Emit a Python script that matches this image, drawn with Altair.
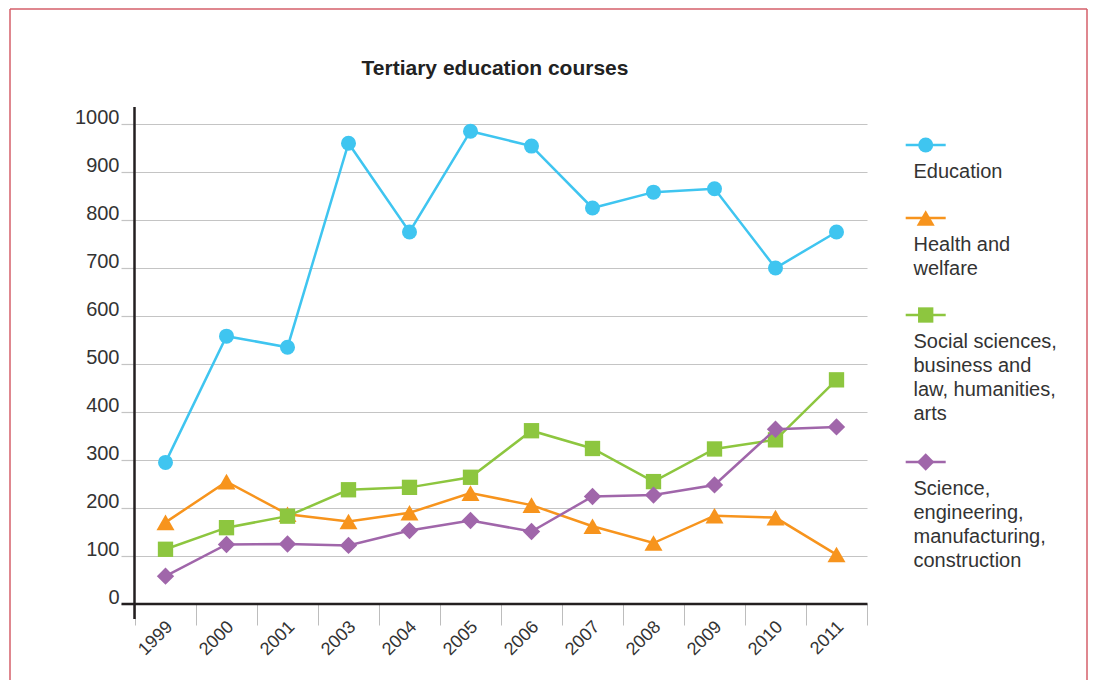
import altair as alt
import pandas as pd

# ---------------- data ----------------
years = ["1999", "2000", "2001", "2003", "2004", "2005", "2006",
         "2007", "2008", "2009", "2010", "2011"]
series = [
    "Education",
    "Health and welfare",
    "Social sciences, business and law, humanities, arts",
    "Science, engineering, manufacturing, construction",
]
legend_labels = [
    "Education",
    "Health and\nwelfare",
    "Social sciences,\nbusiness and\nlaw, humanities,\narts",
    "Science,\nengineering,\nmanufacturing,\nconstruction",
]
education = [295, 558, 535, 960, 775, 985, 954, 825, 858, 865, 700, 775]
health = [170, 255, 187, 172, 190, 231, 206, 162, 127, 184, 180, 103]
social = [114, 159, 183, 238, 243, 264, 361, 324, 255, 323, 342, 467]
science = [58, 124, 125, 122, 153, 174, 151, 224, 227, 248, 364, 369]
y_ticks = [0, 100, 200, 300, 400, 500, 600, 700, 800, 900, 1000]
title_text = "Tertiary education courses"

all_values = [education, health, social, science]

# ---------------- styles ----------------
colors = ["#3fc5f0", "#f7941d", "#8dc63f", "#a066aa"]
shapes = ["circle", "triangle-up", "square", "diamond"]
sizes = [225, 324, 235, 300]

W, H = 732, 480
FONT = "Liberation Sans"
TEXT = "#333333"
GRID = "#c4c4c4"
AXIS = "#231f20"
FRAME = "#d45f6a"

rows = []
for s, vals in zip(series, all_values):
    for yr, v in zip(years, vals):
        rows.append({"year": yr, "series": s, "value": v})
df = pd.DataFrame(rows)

x_enc = alt.X(
    "year:N",
    sort=years,
    scale=alt.Scale(type="band", paddingInner=0, paddingOuter=0),
    axis=alt.Axis(
        title=None, domain=False, grid=False,
        tickBand="extent", tickSize=21, tickColor="#bdbdbd", tickWidth=1,
        labelAngle=-45, labelAlign="right", labelBaseline="middle",
        labelFont=FONT, labelFontSize=18, labelColor=TEXT,
        labelPadding=-1, labelOffset=4,
    ),
)
y_enc = alt.Y(
    "value:Q",
    scale=alt.Scale(domain=[0, 1000], nice=False),
    axis=alt.Axis(
        title=None, domain=False, values=y_ticks, format="d",
        grid=True, gridColor=GRID, gridWidth=1.2,
        tickSize=14, tickColor=GRID, tickWidth=1.2,
        labelFont=FONT, labelFontSize=20, labelColor=TEXT,
        labelPadding=2, labelBaseline="alphabetic", labelOffset=-1,
    ),
)

layers = []
for i, s in enumerate(series):
    sub = df[df["series"] == s]
    base = alt.Chart(sub)
    layers.append(
        base.mark_line(color=colors[i], strokeWidth=2.5).encode(x=x_enc, y=y_enc)
    )
    layers.append(
        base.mark_point(filled=True, opacity=1, color=colors[i],
                        shape=shapes[i], size=sizes[i]).encode(x=x_enc, y=y_enc)
    )

one = pd.DataFrame({"k": [0]})

# axis lines
layers.append(alt.Chart(one).mark_rule(color=AXIS, strokeWidth=2.5).encode(
    x=alt.value(-0.5), y=alt.value(-17), y2=alt.value(495)))
layers.append(alt.Chart(one).mark_rule(color=AXIS, strokeWidth=2.5).encode(
    x=alt.value(-13.5), x2=alt.value(732.5), y=alt.value(480)))

# title
layers.append(alt.Chart(pd.DataFrame({"t": [title_text]})).mark_text(
    font=FONT, fontSize=21, fontWeight="bold", color="#222222",
    align="center", baseline="alphabetic").encode(
    x=alt.value(360), y=alt.value(-49), text="t:N"))

# custom legend
legend_y = [21, 94, 191, 338]
for i in range(len(series)):
    ly = legend_y[i]
    layers.append(alt.Chart(one).mark_rule(color=colors[i], strokeWidth=2.5).encode(
        x=alt.value(770.7), x2=alt.value(810.7), y=alt.value(ly)))
    layers.append(alt.Chart(one).mark_point(
        filled=True, opacity=1, color=colors[i], shape=shapes[i], size=sizes[i]).encode(
        x=alt.value(790.7), y=alt.value(ly)))
    layers.append(alt.Chart(pd.DataFrame({"label": [legend_labels[i]]})).mark_text(
        font=FONT, fontSize=20, color=TEXT, align="left", baseline="alphabetic",
        lineBreak="\n", lineHeight=24).encode(
        x=alt.value(778.5), y=alt.value(ly + 33), text="label:N"))

# frame (left, top, right)
layers.append(alt.Chart(one).mark_rule(color=FRAME, strokeWidth=1.5).encode(
    x=alt.value(-125), y=alt.value(-115), y2=alt.value(556)))
layers.append(alt.Chart(one).mark_rule(color=FRAME, strokeWidth=1.5).encode(
    x=alt.value(-125), x2=alt.value(952), y=alt.value(-115)))
layers.append(alt.Chart(one).mark_rule(color=FRAME, strokeWidth=1.5).encode(
    x=alt.value(952), y=alt.value(-115), y2=alt.value(556)))

chart = alt.layer(*layers).properties(
    width=W, height=H,
    padding={"left": 1, "top": 0, "right": 0, "bottom": 0},
    background="white",
).configure_view(stroke=None)

chart.save("out.html", embed_options={"renderer": "svg", "actions": False})
